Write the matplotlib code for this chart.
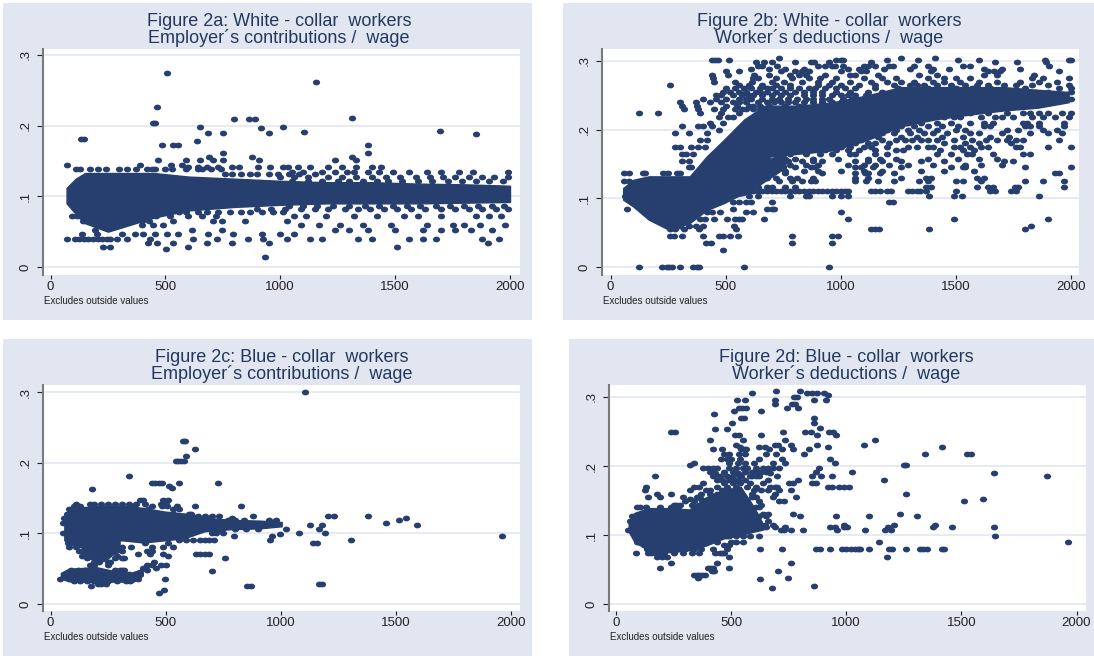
import numpy as np
import matplotlib
matplotlib.use('Agg')
import matplotlib.pyplot as plt
from matplotlib.path import Path
from matplotlib.transforms import Affine2D

plt.rcParams['font.family'] = ['Liberation Sans', 'DejaVu Sans']

BG = '#e1e6f1'
NAVY = '#263f6e'
TXT = '#24385f'
W, H = 1094, 656

# dense part of each cloud, read as (wage, top, bottom)
a_core_x = [70, 110, 150, 250, 350, 450, 600, 800, 1000, 1200, 1400, 1600, 1800, 2000]
a_core_hi = [.112, .125, .133, .133, .133, .133, .128, .125, .122, .12, .12, .118, .117, .115]
a_core_lo = [.09, .075, .062, .05, .06, .07, .08, .085, .088, .09, .09, .09, .091, .092]

b_core_x = [55, 99, 166, 255, 344, 418, 492, 581, 670, 818, 967, 1115, 1263, 1411, 1560, 1708, 1856, 1990]
b_core_hi = [.115, .127, .132, .132, .132, .161, .185, .215, .235, .235, .24, .25, .262, .262, .262, .262, .258, .255]
b_core_lo = [.098, .088, .069, .054, .064, .083, .093, .108, .16, .165, .17, .185, .205, .215, .222, .228, .232, .24]
b_branch_x = [492, 581, 670, 760]
b_branch_hi = [.17, .165, .155, .165]
b_branch_lo = [.1, .105, .125, .145]

c_core_x = [60, 85, 136, 225, 314, 403, 492, 581, 670, 789, 907, 1004]
c_core_hi = [.117, .134, .137, .139, .139, .136, .131, .128, .122, .119, .118, .116]
c_core_lo = [.09, .085, .08, .09, .09, .087, .09, .093, .103, .106, .107, .11]
c_drip_x = [136, 170, 200, 240, 270, 300]
c_drip_hi = [.09, .09, .09, .09, .09, .09]
c_drip_lo = [.072, .065, .058, .062, .07, .074]
c_low_x = [45, 80, 200, 300, 350, 400]
c_low_hi = [.044, .05, .052, .045, .044, .05]
c_low_lo = [.036, .032, .031, .032, .03, .04]

d_core_x = [55, 80, 141, 230, 319, 393, 467, 541, 600, 640]
d_core_hi = [.117, .132, .139, .139, .137, .155, .165, .17, .14, .115]
d_core_lo = [.105, .09, .078, .075, .078, .085, .095, .1, .105, .108]

# loose points, one row per ratio level
a_rows = [
    (.275, [506]), (.262, [1156]), (.227, [462]), (.211, [1312]), (.209, [799, 866, 888]),
    (.204, [445, 453]), (.198, [651, 1012]), (.196, [915]), (.192, [1696]), (.191, [1104]),
    (.19, [953, 687, 752]), (.188, [1852]), (.181, [132, 144]), (.179, [638]),
    (.173, [487, 535, 554, 1382]), (.161, [752, 1382]), (.156, [690, 876, 1312]),
    (.151, [651, 708, 750, 908, 470, 590, 1240, 1330]), (.145, [73, 389, 526, 571]),
    (.141, [600, 640, 680, 730, 790, 820, 905, 955, 1010, 1035, 1079, 1130, 1210, 1270, 1330, 1400, 1440]),
    (.138, [110, 130, 170, 205, 240, 300, 335, 370, 420, 440, 455, 500, 530, 590, 640, 660, 700, 740]),
    (.135, [1050, 1100, 1180, 1240, 1290, 1320, 1380, 1430, 1490, 1560, 1640, 1700, 1780, 1840, 1990]),
    (.132, [760, 790, 830, 870, 900, 950, 990, 1040, 1080, 1150]),
    (.128, [1000, 1060, 1120, 1210, 1270, 1330, 1400, 1460, 1520, 1590, 1650, 1710, 1760, 1820, 1880, 1930, 1990]),
    (.122, [1050, 1120, 1180, 1250, 1300, 1360, 1420, 1470, 1530, 1600, 1660, 1730, 1790, 1850, 1910, 1970]),
    (.087, [1040, 1100, 1160, 1230, 1300, 1370, 1430, 1490, 1550, 1610, 1680, 1740, 1800, 1860, 1920, 1975]),
    (.082, [900, 960, 1020, 1090, 1150, 1210, 1280, 1340, 1390, 1450, 1510, 1570, 1630, 1700, 1760, 1820, 1880, 1940, 1990]),
    (.078, [520, 560, 590, 640, 680, 730, 780, 830, 870, 920, 970, 1010]),
    (.072, [95, 115, 130, 460, 520, 600, 660, 720, 1060, 1110, 1200, 1320, 1420, 1540, 1600, 1700, 1850, 1910, 1960]),
    (.065, [143, 709, 745, 1028, 535, 847, 400, 430]), (.06, [397, 448, 491, 1090, 1170, 1260, 1360, 1480, 1640, 1750, 1800, 1870, 1980]),
    (.052, [615, 745, 194, 1240, 1300, 1380, 1500, 1620, 1700, 1760, 1830, 1920]),
    (.047, [136, 201, 310, 368, 404, 455, 506, 556, 687, 796, 919, 999, 1060]),
    (.04, [70, 107, 125, 145, 165, 185, 205, 225, 245, 259, 288, 331, 433, 622, 726, 861, 926, 1028, 1130, 1180, 1340, 1400, 1560, 1620, 1680, 1880, 1950]),
    (.034, [462, 680, 789, 952, 426, 535, 1905]), (.029, [227, 259, 597, 1508]), (.025, [501]), (.014, [934]),
]

b_rows = [
    (.305, [730, 1262, 1410]),
    (.302, [440, 455, 465, 515, 980, 1000, 1010, 1200, 1335, 1510, 1600, 1990, 2000, 1885]),
    (.298, [630, 665, 700, 800, 870, 885, 950, 1670, 1765, 1130, 1890]),
    (.292, [640, 660, 725, 900, 930, 960, 975, 1010, 1100, 1120, 1150, 1210, 1225, 1320, 1380, 1530, 1560, 1905]),
    (.288, [610, 690, 760, 840, 1030, 1080, 1190, 1300, 1400, 1470, 1620, 1700, 1780]),
    (.285, [500, 560, 740, 800, 830, 860, 1000, 1090, 1110, 1390, 1690, 1665, 1640, 1950]),
    (.28, [440, 510, 625, 690, 780, 820, 850, 1040, 1060, 1420, 1680, 1620, 1840, 930, 1160, 1340]),
    (.275, [445, 620, 640, 720, 790, 860, 910, 1180, 1240, 1380, 1450, 1500, 1560, 1830, 1880, 1990, 980, 1100]),
    (.27, [450, 615, 700, 755, 830, 900, 960, 1200, 1260, 1400, 1450, 1600, 1780, 540, 1040, 1130, 1320, 1520, 1680, 1860, 1940]),
    (.265, [260, 560, 600, 660, 720, 780, 900, 950, 1000, 1300, 1330, 1360, 1420, 1590, 1640, 1710, 1760, 1990, 1080, 1150, 1230, 1480, 1540, 1830, 1900]),
    (.26, [500, 540, 610, 650, 700, 740, 820, 860, 930, 1020, 1060, 1150, 1250, 1380, 1500, 1570, 1650, 1800, 1950, 580, 680, 780, 890, 980, 2000]),
    (.255, [490, 520, 590, 630, 680, 760, 800, 880, 980, 1040, 1120, 1180, 1240, 1300, 1450, 1690, 1850, 1900, 2000, 560, 650, 720, 840, 920]),
    (.25, [460, 480, 570, 620, 700, 780, 840, 920, 1000, 1060, 1110, 530, 600, 660, 740, 880, 960, 1030, 1960]),
    (.245, [400, 460, 500, 560, 610, 660, 730, 810, 880, 950, 1010, 2000, 590, 700, 770, 850, 920, 1050]),
    (.24, [300, 370, 430, 480, 530, 590, 640, 710, 770, 840, 920, 1000, 560, 680, 740, 800, 880, 960]),
    (.235, [310, 375, 500, 550, 620, 690, 760, 820, 890, 600, 650]),
    (.23, [320, 380, 450, 490, 540, 590, 650, 570, 620]),
    (.224, [125, 205, 390, 480, 560, 2000, 1960, 1900, 1860, 1560, 1640, 1720, 1790, 1820]),
    (.218, [470, 510, 1380, 1450, 1520, 1610, 1700, 1750, 1830, 1990, 1490, 1670, 1880, 1930, 530]),
    (.21, [430, 490, 1290, 1350, 1420, 1480, 1560, 1620, 1660, 1790, 1810, 1860, 1970, 1230]),
    (.205, [310, 380, 400, 440, 1170, 1180, 1260, 1320, 1380, 1440, 1510, 1620, 1650, 1800, 1820, 1860, 1970, 1140, 1210]),
    (.2, [1060, 1100, 1150, 1200, 1240, 1290, 1340, 1420, 1500, 1540, 1720, 1770, 1880, 1940, 470]),
    (.195, [280, 340, 420, 1230, 1300, 1360, 1400, 1460, 1560, 1600, 1700, 1820, 1900, 1960, 1030, 1070, 1130, 1180]),
    (.19, [1010, 1050, 1110, 1160, 1260, 1330, 1440, 1530, 1650, 1730]),
    (.185, [390, 420, 1180, 1240, 1280, 1350, 1420, 1490, 1570, 1630, 1680, 1720, 1760, 1790, 1950, 980, 1040, 1090, 1310, 1380]),
    (.18, [960, 1010, 1060, 1120, 1150, 1210, 1450, 1540, 1600, 1740]),
    (.175, [280, 300, 350, 380, 410, 1130, 1100, 1200, 1290, 1330, 1380, 1400, 1490, 1520, 1560, 1610, 1640, 1760, 1780, 2000, 1900, 800, 840, 900, 960, 1000, 1040]),
    (.17, [770, 820, 870, 930, 980, 1030, 1080, 1150, 1240, 1270, 1430, 1530, 1580]),
    (.165, [310, 330, 360, 1040, 1060, 1150, 1200, 1420, 1480, 1550, 1570, 1660, 1790, 1820, 690, 780, 850, 910, 960]),
    (.158, [680, 720, 760, 800, 880, 990, 1120, 1170, 1240, 1380, 1510, 1600, 1680]),
    (.155, [310, 340, 640, 880, 920, 1060, 1120, 1180, 1260, 1350, 1450, 1710, 1750, 830, 770]),
    (.148, [660, 700, 720, 780, 850, 900, 1030, 1100, 1150, 1210, 1290, 1400, 1540, 1610, 1700]),
    (.145, [340, 350, 800, 870, 890, 1060, 1090, 1140, 1260, 1480, 1530, 1540, 1800, 2000, 620, 690, 750]),
    (.14, [650, 680, 710, 760, 840, 900, 1000, 1100, 1180, 1350, 1450, 1580]),
    (.137, [60, 80, 140, 150, 230, 250, 290, 300, 760, 920, 1060, 1105, 1120, 1170, 1230, 1930, 1950, 620, 670, 700]),
    (.13, [590, 640, 680, 720, 780, 810, 880, 1060, 1120, 1260, 1370, 1390, 1590, 1620]),
    (.125, [60, 80, 600, 650, 730, 790, 830, 870, 890, 1060, 1110, 1160, 1230, 1340, 1380, 1500, 1530, 1610, 1800, 1880, 1970]),
    (.117, [600, 640, 680, 700, 760, 800, 1370, 1390, 1590, 1640, 1660, 1755, 1770, 1970]),
    (.11, [560, 580, 600, 620, 640, 660, 680, 700, 720, 740, 760, 780, 800, 820, 840, 860, 880, 900, 920, 940, 960, 980, 1000, 1020,
           1030, 1130, 1150, 1170, 1200, 1220, 1290, 1310, 1330, 1345, 1370, 1500, 1650, 1670, 1740, 1760]),
    (.103, [65, 75, 600, 640, 780, 850, 860, 960, 1000, 1030, 1385, 1525, 1490, 1860]),
    (.095, [590, 610, 700, 1210, 1225, 530, 560]), (.085, [70, 405, 530, 680, 700, 710]),
    (.08, [420, 440, 475, 590, 620, 1000]),
    (.07, [390, 410, 450, 505, 570, 665, 1030, 1490, 1900, 540, 560]),
    (.06, [290, 300, 340, 370, 400, 535, 1825]),
    (.055, [260, 280, 320, 385, 545, 1130, 1150, 1165, 1385, 1800]),
    (.045, [260, 275, 310, 400, 470, 490, 520, 555, 790, 960, 990]),
    (.035, [415, 435, 790, 960]), (.025, [490]),
    (0, [125, 225, 245, 255, 265, 300, 360, 375, 385, 580, 950]),
]

c_rows = [
    (.3, [1104]), (.23, [575, 585]), (.22, [626]), (.209, [589]), (.202, [544, 555, 566, 578]), (.181, [341]),
    (.171, [440, 455, 470, 485, 559, 726]), (.167, [514]), (.164, [529]), (.163, [181]),
    (.147, [490, 510, 400, 390]), (.142, [480, 500, 410, 370, 110, 170, 190, 220, 250, 280, 310, 340]), (.139, [485, 505, 550, 629, 826, 360, 100, 130, 440]),
    (.134, [425, 530, 560, 80]), (.128, [70, 530, 600, 610]),
    (.125, [590, 640, 670, 730, 881, 1204, 1233, 1379, 615, 700]), (.122, [1542, 60, 640, 680, 790]), (.119, [1512, 770, 800, 840, 950, 980]),
    (.114, [1456, 55]), (.112, [1592, 1127, 1177, 650, 700]), (.106, [1167, 1023, 700, 730, 745, 800, 850, 900]), (.101, [1078, 1192, 720, 750, 700, 55, 65]),
    (.099, [996]), (.096, [796, 964, 1960]), (.091, [560, 590, 620, 650, 670, 690, 710, 952, 1305, 90]), (.086, [1139, 1159, 75, 85, 130, 100, 410, 510]),
    (.081, [440, 490, 530, 80, 110, 310, 350]), (.075, [420, 440, 125, 310]), (.071, [380, 430, 490, 630, 650, 670, 690]), (.068, [510, 135, 290]),
    (.065, [310, 759, 320, 160, 280]), (.06, [250, 260, 450, 210, 190]), (.055, [420, 440, 480, 250, 500, 170, 190]), (.051, [400, 410, 460]), (.048, [90, 120, 150, 280, 300, 310, 320, 420]), (.046, [703]),
    (.043, [340, 370, 390]), (.036, [497, 40, 360, 380]), (.032, [100, 130, 160, 190, 220, 250, 290, 330, 345]), (.028, [1165, 1180, 205, 240, 220]), (.025, [175, 855, 870]), (.02, [492]), (.016, [470]),
]

d_rows = [
    (.308, [694, 797]), (.306, [589, 830, 850, 875, 905]), (.303, [920]), (.3, [786, 774]), (.296, [527, 561, 860, 690]), (.295, [912]),
    (.29, [690, 779, 764]), (.284, [534, 549, 564, 742, 791]), (.28, [512, 628]), (.276, [427]), (.27, [542, 556, 860]),
    (.262, [860, 504]), (.255, [886]), (.253, [430, 482]), (.249, [240, 258, 927, 942, 727, 823, 846]), (.245, [519, 534, 630, 875, 957]),
    (.238, [408, 552, 734, 1127]), (.231, [520, 705, 690, 1076, 760, 875]), (.228, [1414, 620, 645, 540, 920]),
    (.224, [420, 460, 545, 555, 565, 665, 720, 770, 840]), (.218, [470, 490, 535, 560, 650, 695, 815, 1343, 1543, 1525]),
    (.21, [455, 480, 500, 540, 620, 720, 930]), (.205, [340, 490, 530, 560, 600, 680, 735, 950]), (.202, [320, 1261, 1250]),
    (.197, [380, 400, 420, 440, 520, 570, 610, 640, 660, 680, 710, 880, 490, 550]), (.192, [410, 470, 510, 560, 600, 630, 650, 1024, 870, 590, 620]),
    (.19, [1642, 430, 530, 670]), (.186, [450, 480, 510, 545, 580, 610, 700]),
    (.185, [170, 420, 540, 590, 620, 850, 890, 940, 1872]), (.18, [460, 490, 530, 560, 660, 790, 1165, 440, 510]), (.175, [380, 470, 510, 540, 580, 640, 750, 770, 850, 870]),
    (.17, [130, 340, 360, 520, 670, 690, 700, 920, 940, 970, 990, 1010, 440, 480, 570, 610]), (.165, [125, 320, 390, 410, 460, 490, 600, 660, 710, 760, 630]),
    (.16, [180, 240, 410, 440, 520, 590, 690, 1261, 370]), (.155, [140, 190, 290, 680, 780, 590, 350, 610]), (.152, [1592, 320, 370]), (.149, [1513, 710, 730, 570, 300, 620, 340]),
    (.144, [250, 260, 280, 330, 360, 630]), (.14, [105, 240, 270, 620, 90, 130, 190, 610]), (.131, [770, 1234, 640, 660]), (.127, [954, 1099, 1306, 800, 620, 70, 650]), (.12, [660, 60]), (.115, [1209, 1387, 590, 990, 645, 680]),
    (.111, [610, 630, 650, 690, 735, 930, 950, 990, 1005, 1180, 1375, 1458, 1642]), (.107, [1080, 1170, 1195, 715, 730, 760, 810, 960, 50]),
    (.099, [1648, 85, 480, 490, 520, 550, 580, 620]), (.09, [1142, 380, 440, 1963, 520, 90, 100, 500, 550]),
    (.085, [120, 370, 470, 490]),
    (.08, [240, 340, 370, 480, 626, 720, 870, 885, 930, 980, 1000, 1020, 1040, 1050, 1060, 1100, 1185, 1200, 1260, 1320, 1335, 1350, 1415, 1425, 135, 160, 270, 300, 420]),
    (.074, [85, 150, 170, 210, 250, 290, 330, 360, 430, 450, 460, 470, 140, 190]), (.068, [180, 200, 220, 490, 1175]), (.06, [240, 440, 761]),
    (.052, [190, 400, 410, 420, 490]), (.048, [705, 415, 425]), (.042, [340, 350, 360, 375, 385]), (.038, [355, 746]),
    (.036, [626]), (.026, [860]), (.023, [679]),
]

# pixel layout of each panel: background, plot area, x=0, x=2000, y=0, y=.3
layout = {
    'a': dict(bg=(3, 3, 532, 320), box=(43, 49, 520, 275), x0=50.5, x2=510, y0=267, y3=55, title=(279, 30), note=44),
    'b': dict(bg=(563, 3, 1094, 320), box=(602, 49, 1079, 275), x0=610.5, x2=1071, y0=267, y3=61, title=(829, 30), note=603),
    'c': dict(bg=(3, 339, 532, 656), box=(43, 385, 520, 611), x0=50.5, x2=511, y0=604, y3=392, title=(282, 366), note=44),
    'd': dict(bg=(569, 339, 1094, 656), box=(609, 385, 1086, 611), x0=616, x2=1076.5, y0=604, y3=397, title=(846, 366), note=610),
}
titles = {
    'a': 'Figure 2a: White - collar  workers\nEmployer´s contributions /  wage',
    'b': 'Figure 2b: White - collar  workers\nWorker´s deductions /  wage',
    'c': 'Figure 2c: Blue - collar  workers\nEmployer´s contributions /  wage',
    'd': 'Figure 2d: Blue - collar  workers\nWorker´s deductions /  wage',
}
cores = {
    'a': [(a_core_x, a_core_hi, a_core_lo)],
    'b': [(b_core_x, b_core_hi, b_core_lo), (b_branch_x, b_branch_hi, b_branch_lo)],
    'c': [(c_core_x, c_core_hi, c_core_lo), (c_drip_x, c_drip_hi, c_drip_lo), (c_low_x, c_low_hi, c_low_lo)],
    'd': [(d_core_x, d_core_hi, d_core_lo)],
}
rows = {'a': a_rows, 'b': b_rows, 'c': c_rows, 'd': d_rows}

# the source picture is stretched sideways, so the dots are flat
flat_dot = Path.unit_circle().transformed(Affine2D().scale(1, .8))


def draw_panel(fig, key):
    p = layout[key]
    x1, y1, x2, y2 = p['bg']
    fig.patches.append(plt.Rectangle((x1 / W, 1 - y2 / H), (x2 - x1) / W, (y2 - y1) / H,
                                     transform=fig.transFigure, color=BG, lw=0, zorder=-1))
    l, t, r, b = p['box']
    ax = fig.add_axes([l / W, 1 - b / H, (r - l) / W, (b - t) / H])
    xscale = (p['x2'] - p['x0']) / 2000
    yscale = (p['y0'] - p['y3']) / .3
    ax.set_xlim((l - p['x0']) / xscale, (r - p['x0']) / xscale)
    ax.set_ylim((p['y0'] - b) / yscale, (p['y0'] - t) / yscale)

    ax.set_yticks([0, .1, .2, .3], ['0', '.1', '.2', '.3'])
    ax.set_xticks([0, 500, 1000, 1500, 2000])
    ax.grid(axis='y', color=BG, lw=1.2)
    ax.set_axisbelow(True)
    for s in ['top', 'right', 'bottom']:
        ax.spines[s].set_visible(False)
    ax.spines['left'].set_color('#7a7a7a')
    ax.spines['left'].set_linewidth(1.5)
    ax.tick_params(axis='y', labelrotation=90, labelsize=9.5, colors='#222222', length=4, width=.8, pad=4)
    ax.tick_params(axis='x', labelsize=9.5, colors='#222222', length=3, width=.8, pad=1.5)
    for lab in ax.get_yticklabels():
        lab.set_va('center')

    for cx, hi, lo in cores[key]:
        ax.fill_between(cx, lo, hi, color=NAVY, lw=1, zorder=3)
    xs, ys = [], []
    for level, wages in rows[key]:
        xs.extend(wages)
        ys.extend([level] * len(wages))
    ax.plot(xs, ys, linestyle='none', marker=flat_dot, color=NAVY, ms=5.2, mew=0, zorder=3, clip_on=False)

    cx, cy = p['title']
    fig.text(cx / W, 1 - cy / H, titles[key], ha='center', va='center', fontsize=13, color=TXT, linespacing=.9)
    fig.text(p['note'] / W, 1 - (b + 26) / H, 'Excludes outside values', ha='left', va='center', fontsize=7, color='#222222')


fig = plt.figure(figsize=(W / 100, H / 100), dpi=100, facecolor='white')
for key in ['a', 'b', 'c', 'd']:
    draw_panel(fig, key)
fig.savefig('out.png', dpi=100)
